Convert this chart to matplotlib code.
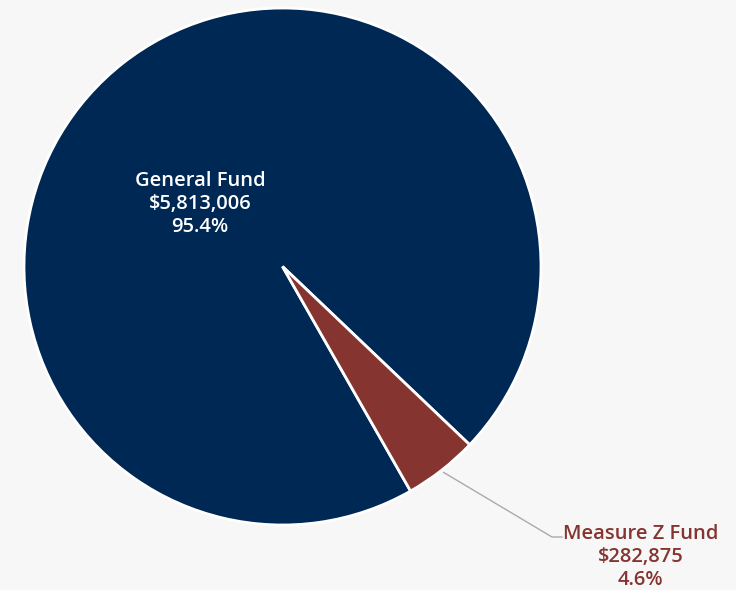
import matplotlib
matplotlib.use("Agg")
import matplotlib.pyplot as plt
import numpy as np

categories = ["General Fund", "Measure Z Fund"]
values = [5813006, 282875]
colors = ["#002855", "#863430"]
text_colors = ["#ffffff", "#863430"]

W, H = 736, 590
fig = plt.figure(figsize=(W / 100, H / 100), dpi=100, facecolor="#f7f7f7")
ax = fig.add_axes([0, 0, 1, 1])
ax.set_facecolor("#f7f7f7")

cx, cy, R = 282.5, H - 266.5, 258.5
wedges, _ = ax.pie(values, colors=colors, startangle=-43.6, counterclock=True,
                   center=(cx, cy), radius=R,
                   wedgeprops=dict(edgecolor="white", linewidth=2))
ax.set_xlim(0, W)
ax.set_ylim(0, H)
ax.set_aspect("equal")
ax.axis("off")

total = sum(values)
font = dict(family=["Open Sans", "DejaVu Sans"], fontweight="semibold", fontsize=14.5)

# General Fund label (inside)
lab0 = f"{categories[0]}\n${values[0]:,}\n{values[0] / total * 100:.1f}%"
ax.text(200, H - 204, lab0, ha="center", va="center", color=text_colors[0],
        linespacing=1.19, **font)

# Measure Z label (outside with leader)
w = wedges[1]
mid = np.deg2rad((w.theta1 + w.theta2) / 2)
sx, sy = cx + (R + 3) * np.cos(mid), cy + (R + 3) * np.sin(mid)
ex, ey = 552, H - 537
ax.plot([sx, ex, ex + 10], [sy, ey, ey], color="#aaaaaa", lw=1)
lab1 = f"{categories[1]}\n${values[1]:,}\n{values[1] / total * 100:.1f}%"
ax.text(640.5, H - 557, lab1, ha="center", va="center", color=text_colors[1],
        linespacing=1.19, **font)

fig.savefig("out.png", dpi=100, facecolor=fig.get_facecolor())
